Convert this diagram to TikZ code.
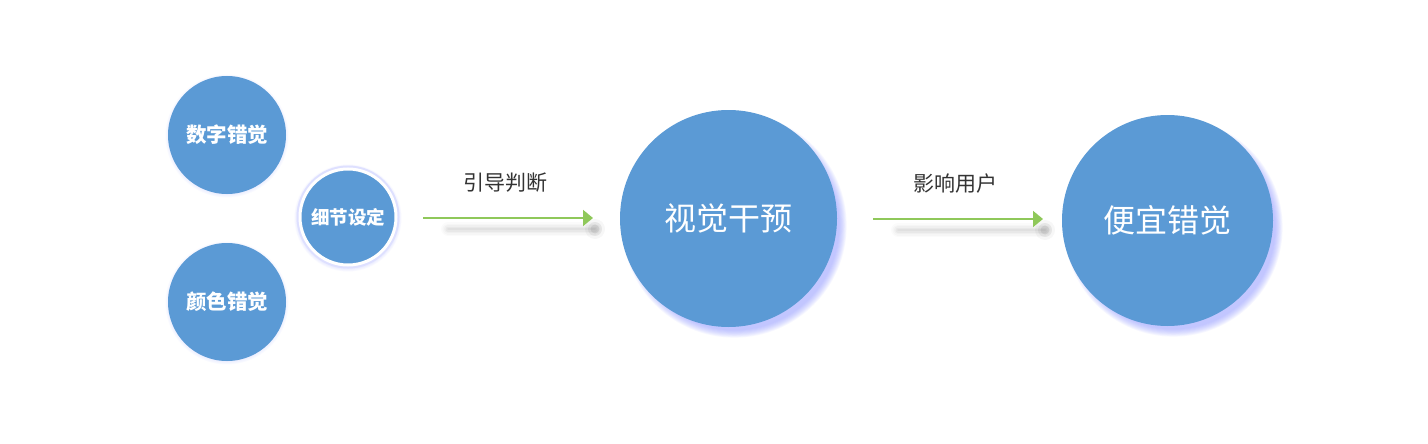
\documentclass[tikz,border=0pt]{standalone}
\usepackage{fontspec}
\setmainfont{Noto Sans CJK SC}
\usetikzlibrary{arrows.meta}
\definecolor{cblue}{HTML}{5B9AD5}
\definecolor{glowc}{HTML}{9098FF}
\definecolor{agreen}{HTML}{8FC85A}
\definecolor{labelc}{HTML}{333333}
\tikzset{
  bub/.style={circle, fill=cblue, text=white, inner sep=0pt, minimum size=#1},
  smalltxt/.style={font=\fontsize{20.5pt}{20.5pt}\selectfont\bfseries},
  bigtxt/.style={font=\fontsize{32pt}{32pt}\selectfont},
  lbl/.style={text=labelc, font=\fontsize{21pt}{21pt}\selectfont},
  flow/.style={draw=agreen, line width=1.8pt, -{Triangle[length=10pt,width=16pt]}},
}
\newcommand{\myglow}[7]{% cx cy r dx dy layers opacity
  \foreach \k in {1,...,#6}{
    \fill[glowc, opacity=#7] ({#1+#4},{#2+#5}) circle[radius={#3pt+\k*0.9pt}];
  }
}
\newcommand{\myshadow}[3]{% x1 x2 y
  \foreach \w/\o in {14/0.015,11/0.02,8/0.025,5/0.03,2/0.03}{
    \draw[black, opacity=\o, line width=\w pt, line cap=round] (#1,#3) -- (#2,#3);
  }
  \foreach \rr/\o in {10/0.03,7/0.05,4.5/0.07}{
    \fill[black, opacity=\o] (#2,#3) circle[radius=\rr pt];
  }
}
\begin{document}
\begin{tikzpicture}[x=1pt,y=-1pt]
\useasboundingbox[fill=white] (0,0) rectangle (1428,444);
% glows
\myglow{227}{135}{57}{0}{1}{5}{0.04}
\myglow{227}{302}{57}{0}{1}{5}{0.04}
\myglow{348}{217}{49}{0}{1}{5}{0.05}
\myglow{728.5}{218.5}{104}{6}{7}{9}{0.08}
\myglow{1167.5}{220.5}{101}{6}{7}{9}{0.08}
% arrow shadows
\myshadow{448}{595}{229}
\myshadow{898}{1045}{230}
% circles
\node[bub=118pt, smalltxt] (n1) at (227,135) {数字错觉};
\node[bub=118pt, smalltxt] (n2) at (227,302) {颜色错觉};
\node[circle, inner sep=0pt, minimum size=103pt, fill=glowc!30] (n3o) at (348,217) {};
\node[bub=96pt, draw=white, line width=3pt, font=\fontsize{18.5pt}{18.5pt}\selectfont\bfseries] (n3) at (348,217) {细节设定};
\node[bub=217pt, bigtxt] (n4) at (728.5,218.5) {视觉干预};
\node[bub=211pt, bigtxt] (n5) at (1167.5,220.5) {便宜错觉};
% connectors
\coordinate (a1s) at (423,218);
\coordinate (a1e) at (593,218);
\coordinate (a2s) at (873,219);
\coordinate (a2e) at (1043,219);
\draw[flow] (a1s) -- (a1e);
\draw[flow] (a2s) -- (a2e);
\node[lbl] (l1) at (505,183) {引导判断};
\node[lbl] (l2) at (955,184) {影响用户};
\end{tikzpicture}
\end{document}
